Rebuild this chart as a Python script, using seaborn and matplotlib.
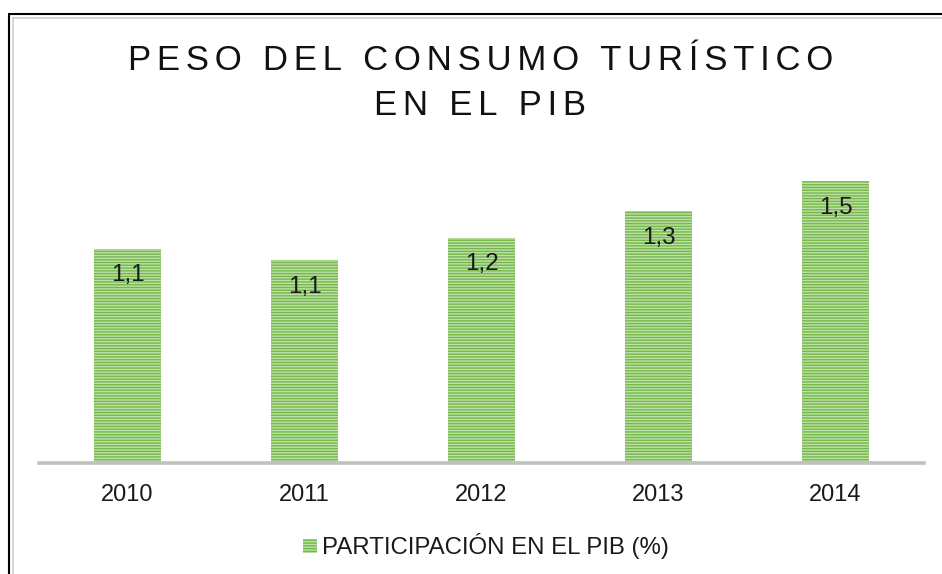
import matplotlib
matplotlib.use('Agg')
import matplotlib.pyplot as plt
from matplotlib.lines import Line2D
import pandas as pd
import seaborn as sns

years = ['2010', '2011', '2012', '2013', '2014']
share_pib = [1.14, 1.08, 1.20, 1.34, 1.50]
series_name = 'PARTICIPACIÓN EN EL PIB (%)'
title_lines = ['PESO DEL CONSUMO TURÍSTICO', 'EN EL PIB']

sns.set_theme(style='white')
plt.rcParams['font.family'] = ['Liberation Sans', 'DejaVu Sans']
plt.rcParams['hatch.linewidth'] = 1.0

df = pd.DataFrame({'year': years, 'value': share_pib, 'serie': series_name})

fig = plt.figure(figsize=(9.42, 5.74), dpi=100)
ax = fig.add_axes([0.0414, 0.193, 0.9395, 0.528])

sns.barplot(data=df, x='year', y='value', hue='serie', palette=['#bfe0a8'],
            width=0.38, saturation=1, edgecolor='#74b84a', linewidth=0,
            hatch='------', ax=ax)

ax.set_ylim(0, 1.612)
ax.set_xlim(-0.5, 4.5)
ax.set_xlabel('')
ax.set_ylabel('')
ax.set_yticks([])
ax.tick_params(axis='x', length=0, pad=15, labelsize=17, labelcolor='#1a1a1a')
for s in ['top', 'left', 'right']:
    ax.spines[s].set_visible(False)
ax.spines['bottom'].set_color('#c0c0c0')
ax.spines['bottom'].set_linewidth(2.6)

labels = [f'{v:.1f}'.replace('.', ',') for v in share_pib]
ax.bar_label(ax.containers[0], labels=labels, padding=-27, fontsize=17.5,
             color='#1a1a1a')

ax.legend(loc='center', bbox_to_anchor=(0.505, -0.274), frameon=False,
          fontsize=17.3, handlelength=0.55, handleheight=0.55, handletextpad=0.2,
          labelcolor='#1a1a1a')

# wide letter spacing of the title, done with hair spaces
spaced = '\n'.join('\u200a\u200a'.join(line) for line in title_lines)
fig.text(0.51, 0.855, spaced, ha='center', va='center', multialignment='center',
         fontsize=25, color='#111111', linespacing=1.45)

# frame lines of the original screenshot
fig.add_artist(Line2D([9 / 942, 9 / 942], [0, 1 - 14 / 574], transform=fig.transFigure,
                      color='black', lw=1.5))
fig.add_artist(Line2D([9 / 942, 1], [1 - 14 / 574, 1 - 14 / 574], transform=fig.transFigure,
                      color='black', lw=1.5))
fig.add_artist(Line2D([13 / 942, 13 / 942], [0, 1 - 18 / 574], transform=fig.transFigure,
                      color='#d0d0d0', lw=1.2))
fig.add_artist(Line2D([13 / 942, 1], [1 - 18 / 574, 1 - 18 / 574], transform=fig.transFigure,
                      color='#d0d0d0', lw=1.2))

fig.savefig('out.png', dpi=100)
